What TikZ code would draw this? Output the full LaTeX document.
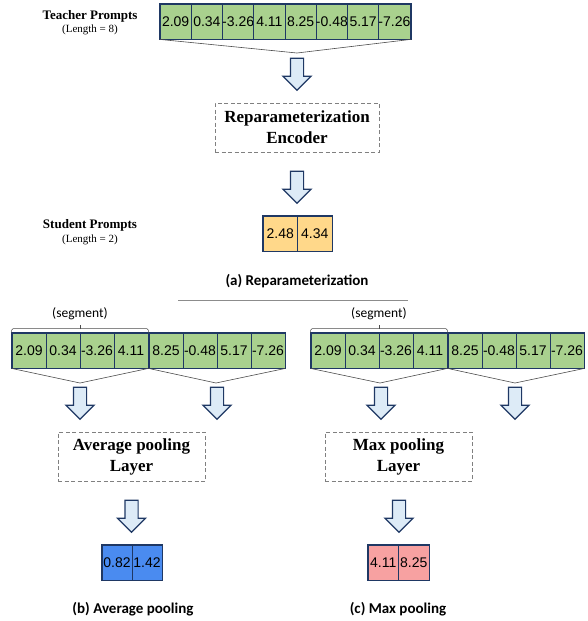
\documentclass[tikz,border=0pt]{standalone}
\usepackage{fontspec}
\setmainfont{Liberation Serif}
\newfontfamily\arialfont{Liberation Sans}
\newfontfamily\calfont{Carlito}
\usetikzlibrary{shapes.arrows}
\definecolor{navy}{HTML}{1F3864}
\definecolor{cellgreen}{HTML}{A9D18E}
\definecolor{cellyellow}{HTML}{FFD88A}
\definecolor{cellblue}{HTML}{4A8BF0}
\definecolor{cellpink}{HTML}{F7A1A1}
\definecolor{arrowfill}{HTML}{DDEBF7}
\definecolor{dashgray}{HTML}{808080}
\tikzset{
  cell/.style={draw=navy, line width=0.8pt, minimum height=35pt, inner sep=0pt,
    font=\arialfont\fontsize{14}{15}\selectfont},
  outline/.style={draw=navy, line width=1.8pt},
  downarrow/.style={shape=single arrow, shape border rotate=270, draw=navy,
    line width=1.2pt, fill=arrowfill, minimum height=32pt, minimum width=27pt,
    inner sep=6pt, single arrow head extend=7.5pt, single arrow head indent=0pt},
  dashbox/.style={draw=dashgray, dash pattern=on 4pt off 2.5pt, line width=0.8pt,
    minimum height=49pt, align=center, inner sep=0pt,
    font=\bfseries\fontsize{17}{21}\selectfont},
  funnel/.style={draw=black!70, line width=0.6pt},
  bracket/.style={draw=black!70, line width=0.6pt},
  sidelabel/.style={font=\bfseries\fontsize{13}{15}\selectfont, inner sep=0pt},
  lenlabel/.style={font=\fontsize{11}{13}\selectfont, inner sep=0pt},
  caption/.style={font=\calfont\bfseries\fontsize{15}{17}\selectfont, inner sep=0pt},
  seglabel/.style={font=\calfont\fontsize{13.5}{15}\selectfont, inner sep=0pt}
}
\begin{document}
\begin{tikzpicture}[x=1pt,y=-1pt]
\useasboundingbox (0,0) rectangle (587,621);
% ---------- (a) Reparameterization ----------
\node[sidelabel] (tp) at (90,16) {Teacher Prompts};
\node[lenlabel] (tl) at (90,30) {(Length = 8)};
\foreach \v [count=\i] in {2.09,0.34,-3.26,4.11,8.25,-0.48,5.17,-7.26}
  \node[cell, fill=cellgreen, minimum width=31.25pt] (t\i) at ({160+31.25*(\i-0.5)},21.5) {\v};
\draw[outline] (t1.north west) rectangle (t8.south east);
\coordinate (tf) at (297,53);
\draw[funnel] (t1.south west) -- (tf) -- (t8.south east);
\node[downarrow] (ar1) at (297,71) {};
\node[dashbox, minimum width=164pt] (enc) at (297,127.5) {Reparameterization\\Encoder};
\node[downarrow] (ar2) at (297,184) {};
\node[sidelabel] (sp) at (90,225) {Student Prompts};
\node[lenlabel] (sl) at (90,240) {(Length = 2)};
\node[cell, fill=cellyellow, minimum width=34.5pt] (s1) at (280.25,233.5) {2.48};
\node[cell, fill=cellyellow, minimum width=34.5pt] (s2) at (314.75,233.5) {4.34};
\draw[outline] (s1.north west) rectangle (s2.south east);
\node[caption] (capa) at (297,281) {(a) Reparameterization};
\coordinate (sepl) at (178,300);
\coordinate (sepr) at (408,300);
\draw[draw=black!45, line width=0.6pt] (sepl) -- (sepr);
% ---------- (b) Average pooling ----------
\foreach \v [count=\i] in {2.09,0.34,-3.26,4.11}
  \node[cell, fill=cellgreen, minimum width=34pt] (a\i) at ({12+34*(\i-0.5)},350.5) {\v};
\foreach \v [count=\i from 5] in {8.25,-0.48,5.17,-7.26}
  \node[cell, fill=cellgreen, minimum width=34pt] (a\i) at ({149+34*(\i-4.5)},350.5) {\v};
\draw[outline] (a1.north west) rectangle (a4.south east);
\draw[outline] (a5.north west) rectangle (a8.south east);
\draw[bracket, rounded corners=1.5pt] (a1.north west) -- ++(0,-4) -| (a4.north east);
\draw[bracket] (80,329) -- (80,325);
\node[seglabel] (sega) at (80,314) {(segment)};
\coordinate (af1) at (80,383);
\coordinate (af2) at (216,383);
\draw[funnel] (a1.south west) -- (af1) -- (a4.south east);
\draw[funnel] (a5.south west) -- (af2) -- (a8.south east);
\node[downarrow] (ba1) at (80,400) {};
\node[downarrow] (ba2) at (217,400) {};
\node[dashbox, minimum width=147pt] (avg) at (131.5,456.5) {Average pooling\\Layer};
\node[downarrow] (ba3) at (131.5,513) {};
\node[cell, fill=cellblue, minimum width=30pt] (c1) at (117,562.5) {0.82};
\node[cell, fill=cellblue, minimum width=30pt] (c2) at (147,562.5) {1.42};
\draw[outline] (c1.north west) rectangle (c2.south east);
\node[caption] (capb) at (133,609) {(b) Average pooling};
% ---------- (c) Max pooling ----------
\foreach \v [count=\i] in {2.09,0.34,-3.26,4.11}
  \node[cell, fill=cellgreen, minimum width=34pt] (b\i) at ({311+34*(\i-0.5)},350.5) {\v};
\foreach \v [count=\i from 5] in {8.25,-0.48,5.17,-7.26}
  \node[cell, fill=cellgreen, minimum width=34pt] (b\i) at ({448+34*(\i-4.5)},350.5) {\v};
\draw[outline] (b1.north west) rectangle (b4.south east);
\draw[outline] (b5.north west) rectangle (b8.south east);
\draw[bracket, rounded corners=1.5pt] (b1.north west) -- ++(0,-4) -| (b4.north east);
\draw[bracket] (379,329) -- (379,325);
\node[seglabel] (segb) at (379,314) {(segment)};
\coordinate (bf1) at (380,383);
\coordinate (bf2) at (515,383);
\draw[funnel] (b1.south west) -- (bf1) -- (b4.south east);
\draw[funnel] (b5.south west) -- (bf2) -- (b8.south east);
\node[downarrow] (bb1) at (381,400) {};
\node[downarrow] (bb2) at (515,400) {};
\node[dashbox, minimum width=147pt] (mx) at (398.5,456.5) {Max pooling\\Layer};
\node[downarrow] (bb3) at (399,513) {};
\node[cell, fill=cellpink, minimum width=30.5pt] (m1) at (383.25,562.5) {4.11};
\node[cell, fill=cellpink, minimum width=30.5pt] (m2) at (413.75,562.5) {8.25};
\draw[outline] (m1.north west) rectangle (m2.south east);
\node[caption] (capc) at (398,609) {(c) Max pooling};
\end{tikzpicture}
\end{document}
